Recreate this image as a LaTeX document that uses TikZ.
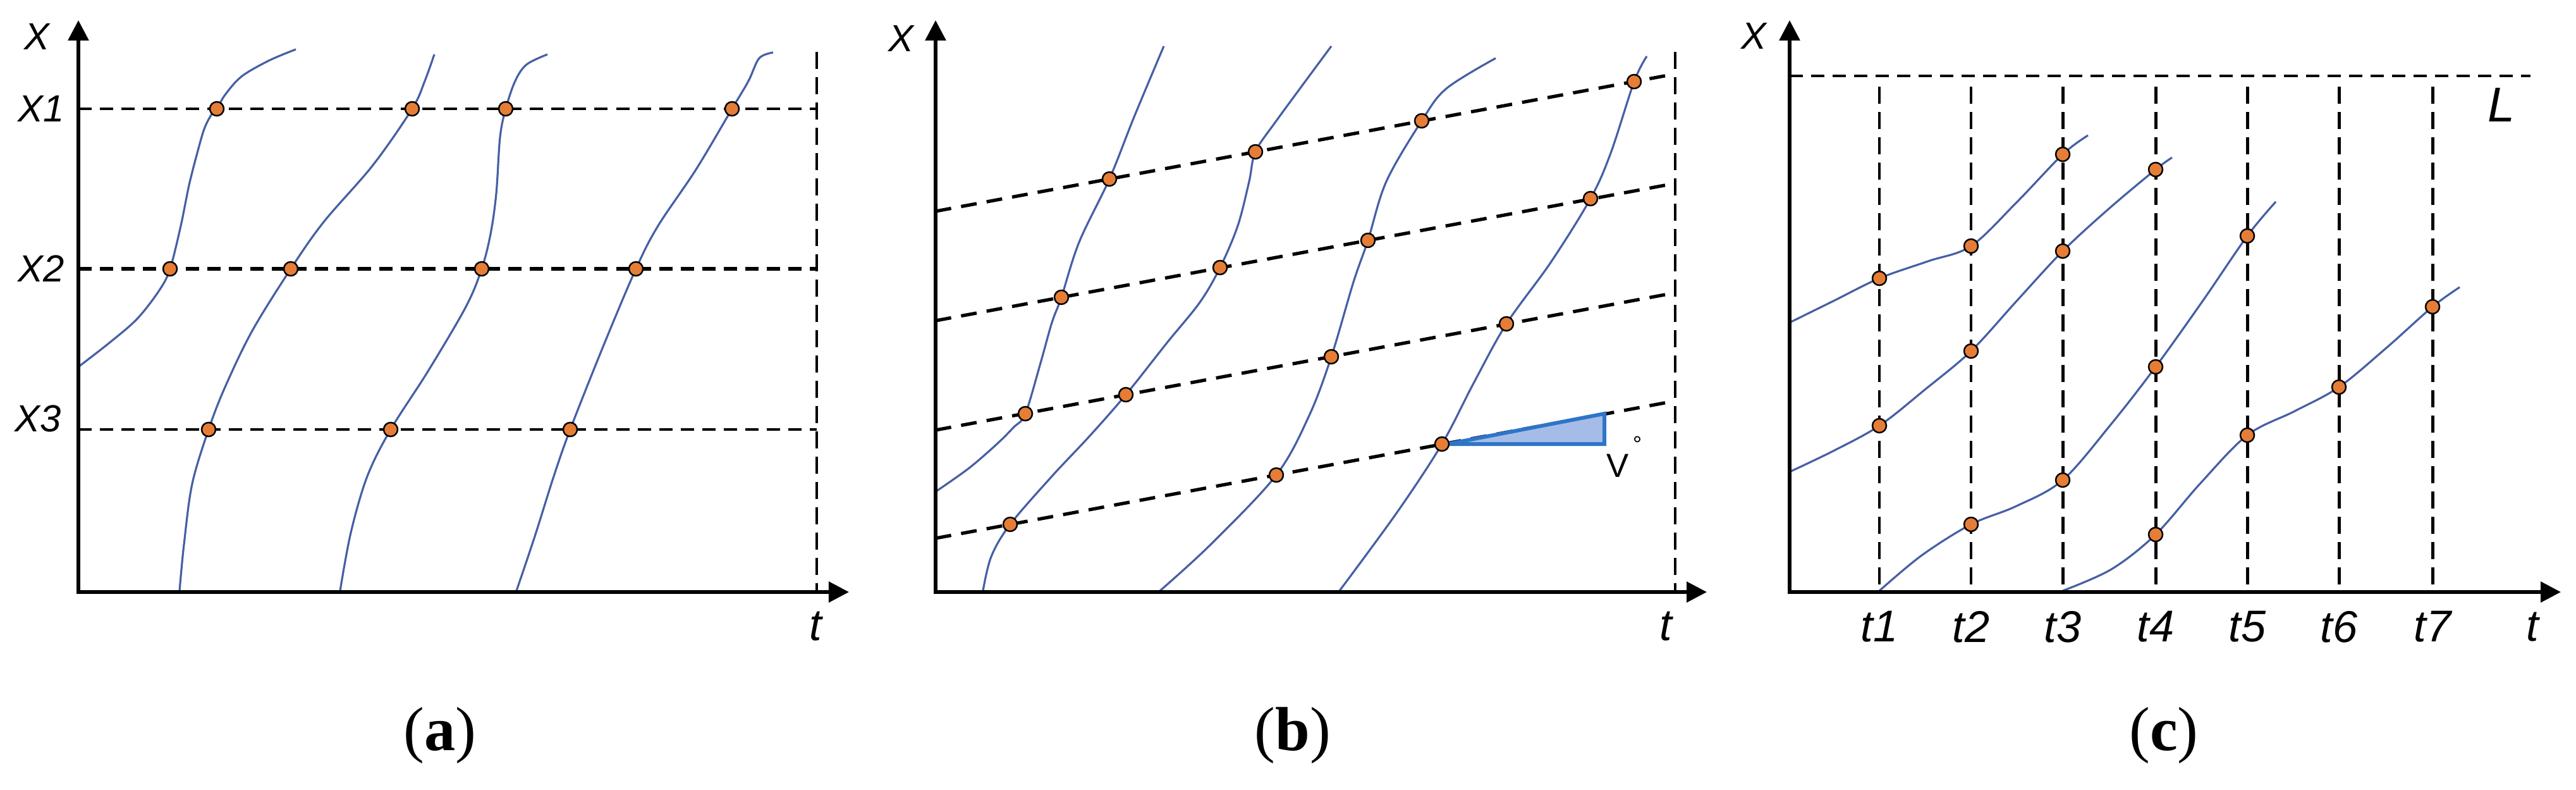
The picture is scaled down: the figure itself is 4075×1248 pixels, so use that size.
\documentclass[tikz,border=0pt]{standalone}
\usepackage{fontspec}
\setmainfont{Liberation Serif}
\newfontfamily\labfont{Liberation Sans}
\usetikzlibrary{arrows.meta}
\definecolor{curveblue}{RGB}{70,95,165}
\definecolor{dotorange}{RGB}{230,125,55}
\definecolor{triblue}{RGB}{46,117,200}
\definecolor{trifill}{RGB}{165,188,232}
\tikzset{
  axis/.style={line width=1.6pt, line join=miter, {Triangle[length=3.2mm,width=3.2mm]}-{Triangle[length=3.2mm,width=3.2mm]}},
  gridh/.style={line width=1.3pt, dash pattern=on 2.1mm off 1.3mm},
  gridv/.style={line width=1.2pt, dash pattern=on 2.7mm off 1.3mm},
  gridb/.style={line width=1.5pt, dash pattern=on 2.5mm off 1.6mm},
  curve/.style={curveblue, line width=0.9pt},
  dot/.style={circle, draw=black, line width=0.7pt, fill=dotorange, inner sep=0pt, minimum size=2.2mm},
  lab/.style={font=\labfont\itshape\fontsize{17}{20}\selectfont, inner sep=0pt},
  tlab/.style={font=\labfont\itshape\fontsize{20}{24}\selectfont, inner sep=0pt},
  captxt/.style={font=\fontsize{28}{32}\selectfont, inner sep=0pt}
}
\begin{document}
\begin{tikzpicture}[x=0.01cm, y=-0.01cm]
\useasboundingbox (0,0) rectangle (4075,1248);
% ================= panel (a) =================
\coordinate (aO) at (124,936);
\coordinate (aY) at (124,32);
\coordinate (aX) at (1343,936);
\coordinate (aL1) at (124,172);  \coordinate (aR1) at (1292,172);
\coordinate (aL2) at (124,425);  \coordinate (aR2) at (1292,425);
\coordinate (aL3) at (124,679);  \coordinate (aR3) at (1292,679);
\coordinate (aVt) at (1292,82);  \coordinate (aVb) at (1292,936);
\draw[gridh] (aL1) -- (aR1);
\draw[gridh, line width=1.6pt] (aL2) -- (aR2);
\draw[gridh] (aL3) -- (aR3);
\draw[gridv] (aVt) -- (aVb);
\draw[curve] plot[smooth, tension=0.55] coordinates {(124,580) (173,542) (217,504) (252,459) (269,425) (286,357) (299,293) (312,242) (323,204) (334,182) (343,172) (356,150) (382,121) (425,96) (468,78)};
\draw[curve] plot[smooth, tension=0.55] coordinates {(284,934) (291,861) (304,765) (330,679) (356,612) (399,523) (460,425) (512,351) (590,261) (652,172) (672,128) (687,86)};
\draw[curve] plot[smooth, tension=0.55] coordinates {(538,934) (555,842) (581,753) (618,679) (677,587) (737,485) (762,425) (776,370) (785,306) (791,217) (800,172) (815,128) (833,102) (866,86)};
\draw[curve] plot[smooth, tension=0.55] coordinates {(817,934) (846,848) (876,753) (902,679) (954,548) (1006,425) (1041,357) (1101,268) (1158,172) (1184,128) (1201,92) (1223,83)};
\draw[axis] (aY) -- (aO) -- (aX);
\foreach \n/\p in {a11/{(343,172)}, a12/{(652,172)}, a13/{(800,172)}, a14/{(1158,172)},
                   a21/{(269,425)}, a22/{(460,425)}, a23/{(762,425)}, a24/{(1006,425)},
                   a31/{(330,679)}, a32/{(618,679)}, a33/{(902,679)}}
  \node[dot] (\n) at \p {};
\node[lab] (aXl) at (58,58) {X};
\node[lab] (aX1l) at (65,172) {X1};
\node[lab] (aX2l) at (65,425) {X2};
\node[lab] (aX3l) at (60,662) {X3};
\node[tlab] (atl) at (1290,990) {t};
\node[captxt] (capa) at (696,1163) {(\textbf{a})};
% ================= panel (b) =================
\coordinate (bO) at (1480,936);
\coordinate (bY) at (1480,32);
\coordinate (bX) at (2700,936);
\coordinate (bL1) at (1480,334); \coordinate (bR1) at (2644,118);
\coordinate (bL2) at (1480,507); \coordinate (bR2) at (2644,291);
\coordinate (bL3) at (1480,680); \coordinate (bR3) at (2644,464);
\coordinate (bL4) at (1480,851); \coordinate (bR4) at (2644,635);
\coordinate (bVt) at (2650,82);  \coordinate (bVb) at (2650,936);
\draw[gridb] (bL1) -- (bR1);
\draw[gridb] (bL2) -- (bR2);
\draw[gridb] (bL3) -- (bR3);
\draw[gridb] (bL4) -- (bR4);
\draw[gridv, line width=1pt] (bVt) -- (bVb);
\draw[curve] plot[smooth, tension=0.55] coordinates {(1482,776) (1533,740) (1577,702) (1603,676) (1622,654) (1646,574) (1664,510) (1679,470) (1707,383) (1755,283) (1794,185) (1841,73)};
\draw[curve] plot[smooth, tension=0.55] coordinates {(1555,934) (1568,880) (1598,829) (1664,753) (1724,689) (1781,624) (1846,542) (1898,478) (1930,423) (1958,357) (1976,287) (1986,240) (2019,191) (2106,73)};
\draw[curve] plot[smooth, tension=0.55] coordinates {(1835,934) (1915,861) (2019,751) (2071,657) (2106,564) (2141,446) (2164,380) (2193,287) (2249,191) (2288,140) (2366,92)};
\draw[curve] plot[smooth, tension=0.55] coordinates {(2119,934) (2210,810) (2281,702) (2331,606) (2383,512) (2453,415) (2516,314) (2548,242) (2585,129) (2605,89)};
\draw[axis] (bY) -- (bO) -- (bX);
\coordinate (tA) at (2290,702);
\coordinate (tB) at (2538,702);
\coordinate (tC) at (2538,654);
\fill[trifill] (tA) -- (tB) -- (tC) -- cycle;
\draw[triblue, line width=1.7pt, line join=miter] (tA) -- (tB) -- (tC) -- cycle;
\foreach \n/\p in {b11/{(1755,283)}, b12/{(1986,240)}, b13/{(2249,191)}, b14/{(2585,129)},
                   b21/{(1679,470)}, b22/{(1930,423)}, b23/{(2164,380)}, b24/{(2516,314)},
                   b31/{(1622,654)}, b32/{(1781,624)}, b33/{(2106,564)}, b34/{(2383,512)},
                   b41/{(1598,829)}, b42/{(2019,751)}, b43/{(2281,702)}}
  \node[dot] (\n) at \p {};
\node[lab] (bXl) at (1425,61) {X};
\node[font=\labfont\fontsize{15}{17}\selectfont, inner sep=0pt, anchor=west] (vlab) at (2541,722) {V\hspace{0.12em}\raisebox{0.75em}{\fontsize{10}{10}\selectfont °}};
\node[tlab] (btl) at (2635,990) {t};
\node[captxt] (capb) at (2045,1163) {(\textbf{b})};
% ================= panel (c) =================
\coordinate (cO) at (2831,936);
\coordinate (cY) at (2831,32);
\coordinate (cX) at (4051,936);
\coordinate (cLl) at (2831,120); \coordinate (cLr) at (4003,120);
\draw[gridh, line width=1.4pt] (cLl) -- (cLr);
\foreach \i/\x in {1/2973, 2/3118, 3/3263, 4/3410, 5/3555, 6/3700, 7/3848} {
  \coordinate (cv\i t) at (\x,137);
  \coordinate (cv\i b) at (\x,936);
  \draw[gridv, line width=1.4pt] (cv\i t) -- (cv\i b);
  \node[tlab] (ct\i) at (\x,991) {t\i};
}
\draw[curve] plot[smooth, tension=0.55] coordinates {(2831,510) (2900,476) (2973,440) (3050,413) (3118,389) (3190,320) (3263,244) (3303,214)};
\draw[curve] plot[smooth, tension=0.55] coordinates {(2831,746) (2900,713) (2973,673) (3045,616) (3118,555) (3190,476) (3263,397) (3336,330) (3410,268) (3436,249)};
\draw[curve] plot[smooth, tension=0.55] coordinates {(2973,934) (3040,878) (3118,829) (3190,800) (3263,759) (3340,670) (3410,580) (3485,475) (3555,373) (3600,319)};
\draw[curve] plot[smooth, tension=0.55] coordinates {(3263,934) (3340,900) (3410,845) (3480,765) (3555,688) (3630,650) (3700,612) (3775,550) (3848,485) (3891,454)};
\draw[axis] (cY) -- (cO) -- (cX);
\foreach \n/\p in {c11/{(2973,440)}, c12/{(2973,673)},
                   c21/{(3118,389)}, c22/{(3118,555)}, c23/{(3118,829)},
                   c31/{(3263,244)}, c32/{(3263,397)}, c33/{(3263,759)},
                   c41/{(3410,268)}, c42/{(3410,580)}, c43/{(3410,845)},
                   c51/{(3555,373)}, c52/{(3555,688)},
                   c61/{(3700,612)}, c71/{(3848,485)}}
  \node[dot] (\n) at \p {};
\node[lab] (cXl) at (2774,57) {X};
\node[tlab, font=\labfont\itshape\fontsize{22}{26}\selectfont] (cLlab) at (3957,166) {L};
\node[tlab] (ctl) at (4006,991) {t};
\node[captxt] (capc) at (3423,1163) {(\textbf{c})};
\end{tikzpicture}
\end{document}
